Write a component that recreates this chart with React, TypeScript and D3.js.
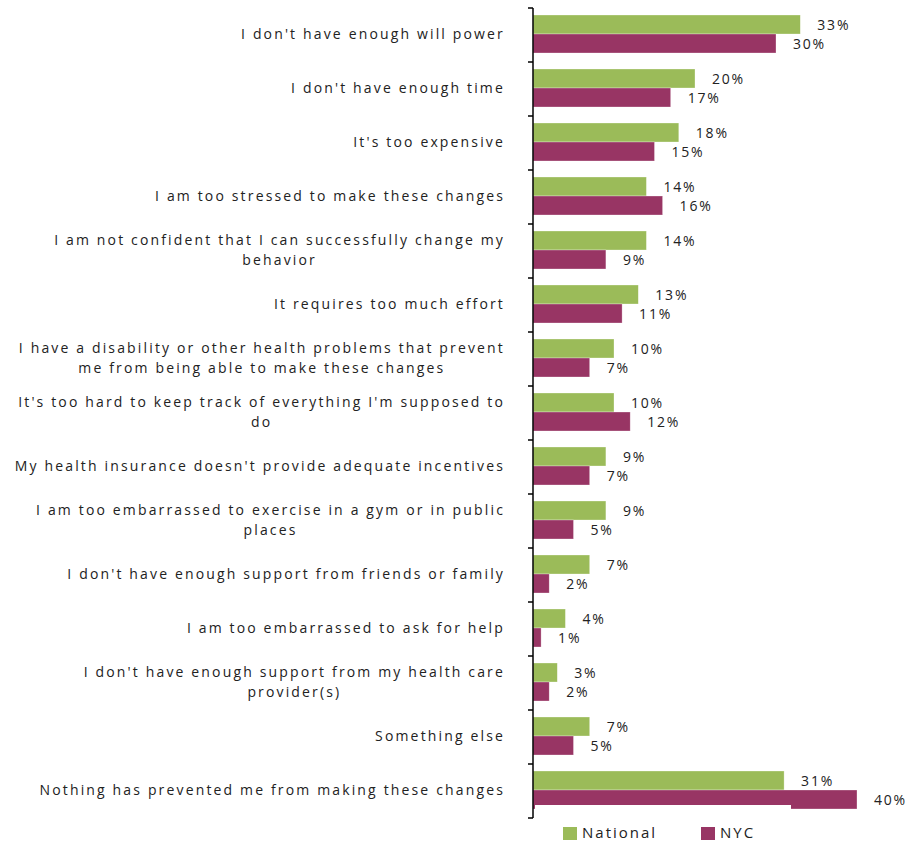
import { useEffect, useRef } from "react";
import * as d3 from "d3";

const categories = [
  "I don't have enough will power",
  "I don't have enough time",
  "It's too expensive",
  "I am too stressed to make these changes",
  "I am not confident that I can successfully change my\nbehavior",
  "It requires too much effort",
  "I have a disability or other health problems that prevent\nme from being able to make these changes",
  "It's too hard to keep track of everything I'm supposed to\ndo",
  "My health insurance doesn't provide adequate incentives",
  "I am too embarrassed to exercise in a gym or in public\nplaces",
  "I don't have enough support from friends or family",
  "I am too embarrassed to ask for help",
  "I don't have enough support from my health care\nprovider(s)",
  "Something else",
  "Nothing has prevented me from making these changes",
];
const national = [33, 20, 18, 14, 14, 13, 10, 10, 9, 9, 7, 4, 3, 7, 31];
const nyc = [30, 17, 15, 16, 9, 11, 7, 12, 7, 5, 2, 1, 2, 5, 40];
const seriesNames = ["National", "NYC"];
const colors = ["#9BBB59", "#983564"];

const W = 913;
const H = 846;
const FONT = "'Open Sans', 'Noto Sans', sans-serif";

export default function App() {
  const svgRef = useRef<SVGSVGElement>(null);

  useEffect(() => {
    const svg = d3.select(svgRef.current!);
    svg.selectAll("*").remove();

    const left = 533;
    const top = 8;
    const bottom = 818;

    const y = d3.scaleBand<number>().domain(d3.range(categories.length)).range([top, bottom]);
    const x = d3.scaleLinear().domain([0, 40]).range([left, left + 324]);
    const inner = d3.scaleBand<number>().domain([0, 1]).range([7, y.bandwidth() - 9]);

    const series = [national, nyc];

    // bars
    series.forEach((vals, s) => {
      svg
        .append("g")
        .selectAll("rect")
        .data(vals)
        .join("rect")
        .attr("x", x(0))
        .attr("y", (_, i) => (y(i) ?? 0) + (inner(s) ?? 0))
        .attr("width", (d) => x(d) - x(0))
        .attr("height", inner.bandwidth())
        .attr("fill", colors[s])
        .attr("stroke", "#ffffff")
        .attr("stroke-opacity", 0.5)
        .attr("stroke-width", 0.6);
    });

    // value labels
    series.forEach((vals, s) => {
      svg
        .append("g")
        .selectAll("text")
        .data(vals)
        .join("text")
        .attr("x", (d) => x(d) + 17)
        .attr("y", (_, i) => (y(i) ?? 0) + (inner(s) ?? 0) + inner.bandwidth() / 2 + 2)
        .attr("dominant-baseline", "middle")
        .attr("font-family", FONT)
        .attr("font-size", 14)
        .attr("letter-spacing", 1.8)
        .attr("fill", "#222")
        .text((d) => `${d}%`);
    });

    // category labels (block right aligned at 505, lines centered within block)
    const labelRight = 505;
    const lineH = 20;
    categories.forEach((c, i) => {
      const lines = c.split("\n");
      const g = svg.append("g");
      const cy = (y(i) ?? 0) + y.bandwidth() / 2;
      const texts = lines.map((ln, k) =>
        g
          .append("text")
          .attr("y", cy + (k - (lines.length - 1) / 2) * lineH)
          .attr("dominant-baseline", "middle")
          .attr("text-anchor", "middle")
          .attr("font-family", FONT)
          .attr("font-size", 14)
          .attr("letter-spacing", 2.15)
          .attr("fill", "#222")
          .text(ln)
      );
      const widths = texts.map((t) => (t.node() as SVGTextElement).getComputedTextLength());
      const maxW = d3.max(widths) ?? 0;
      texts.forEach((t) => t.attr("x", labelRight - maxW / 2));
    });

    // legend (its white box sits over the bottom of the last bar)
    const leg = svg.append("g");
    leg.append("rect").attr("x", 535).attr("y", 805).attr("width", 256).attr("height", 41).attr("fill", "#fff");
    const legX = [563, 701];
    seriesNames.forEach((n, s) => {
      leg.append("rect")
        .attr("x", legX[s])
        .attr("y", 827)
        .attr("width", 14)
        .attr("height", 13)
        .attr("fill", colors[s]);
      leg.append("text")
        .attr("x", legX[s] + 19)
        .attr("y", 834)
        .attr("dominant-baseline", "middle")
        .attr("font-family", FONT)
        .attr("font-size", 15)
        .attr("letter-spacing", 2)
        .attr("fill", "#222")
        .text(n);
    });

    // axis line + ticks
    const ax = svg.append("g");
    ax.append("line")
      .attr("x1", left)
      .attr("x2", left)
      .attr("y1", top)
      .attr("y2", bottom)
      .attr("stroke", "#000")
      .attr("stroke-width", 1.5);
    ax.selectAll("line.tick")
      .data(d3.range(categories.length + 1))
      .join("line")
      .attr("class", "tick")
      .attr("x1", left - 5)
      .attr("x2", left)
      .attr("y1", (i) => top + i * y.step())
      .attr("y2", (i) => top + i * y.step())
      .attr("stroke", "#000")
      .attr("stroke-width", 1.5);
  }, []);

  return (
    <div style={{ position: "absolute", left: 0, top: 0 }}>
      <svg ref={svgRef} width={W} height={H} style={{ display: "block", background: "#fff" }} />
    </div>
  );
}
